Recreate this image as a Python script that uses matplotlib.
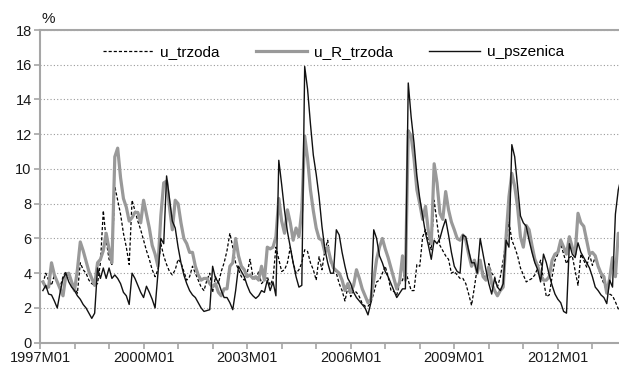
import numpy as np
import matplotlib.pyplot as plt

plt.rcParams['font.family'] = ['Liberation Sans', 'DejaVu Sans']

# miesieczne dane od 1997M01
u_trzoda = [
    3.4, 4.0, 3.6, 3.3, 3.9, 3.5, 3.2, 3.8, 4.1, 3.8, 3.5, 3.2,
    2.85, 4.6, 4.2, 4.0, 3.6, 3.4, 3.3, 3.4, 4.6, 7.6, 5.9, 4.8,
    4.5, 9.0, 8.2, 7.4, 6.3, 5.5, 4.5, 8.2, 7.6, 7.0, 6.5, 5.9,
    5.3, 4.8, 4.2, 3.8, 4.2, 5.7, 5.0, 4.5, 4.1, 3.9, 4.2, 4.8,
    4.6, 4.1, 3.6, 3.8, 4.4, 4.0, 3.6, 3.2, 3.0, 3.6, 4.0, 2.9,
    3.8, 3.4, 4.1, 4.6, 5.3, 6.3, 5.5, 4.6, 4.2, 3.8, 3.6, 4.0,
    4.8, 3.8, 3.6, 4.1, 3.4, 3.6, 3.8, 3.3, 3.7, 5.5, 4.8, 4.1,
    4.2, 4.6, 5.5, 4.6, 4.0, 4.2, 4.6, 5.35, 5.25, 4.6, 4.2, 3.6,
    4.95, 4.2, 5.3, 5.9, 4.6, 4.4, 4.0, 3.4, 3.0, 2.4, 3.2, 2.65,
    3.0, 2.9, 2.65, 2.25, 2.1, 2.1, 2.3, 2.85, 3.5, 3.6, 4.0, 4.4,
    3.8, 3.0, 2.95, 2.75, 3.4, 3.6, 4.1, 3.6, 3.0, 3.0, 4.5, 4.4,
    6.1, 6.5, 5.9, 5.35, 8.2, 6.9, 5.6, 5.3, 5.0, 4.8, 4.0, 4.1,
    3.9, 3.7, 3.7, 3.4, 2.8, 2.15, 3.2, 4.35, 4.45, 4.1, 3.6, 4.55,
    4.0, 3.8, 3.2, 3.8, 4.75, 5.9, 6.95, 5.9, 5.5, 5.0, 4.3, 3.9,
    3.5, 3.6, 3.7, 3.9, 4.3, 4.75, 3.6, 2.65, 2.75, 3.8, 4.75, 5.1,
    5.7, 5.1, 4.55, 4.9, 5.0, 4.15, 3.3, 5.1, 4.75, 4.35, 5.1, 4.45,
    4.95, 4.35, 3.8, 3.4, 3.0, 2.8, 2.7, 2.35, 1.95, 1.8,
]

u_R_trzoda = [
    3.5, 3.2, 3.2, 4.6, 3.9, 3.5, 3.1, 2.7, 3.9, 4.0, 3.5, 3.0,
    4.2, 5.8, 5.3, 4.7, 4.1, 3.7, 3.3, 4.6, 4.8, 5.3, 6.3, 5.4,
    4.6, 10.7, 11.2, 9.5, 8.3, 7.8, 7.0, 7.2, 7.5, 7.5, 6.9, 8.2,
    7.4, 6.6, 5.6, 5.1, 4.4, 7.3, 9.2, 9.3, 7.8, 6.5, 8.2, 8.0,
    6.9, 6.0, 5.7, 5.2, 5.2, 4.4, 3.9, 3.6, 3.7, 3.7, 3.4, 3.2,
    3.4, 2.9, 2.7, 3.1, 3.1, 4.4, 4.6, 6.0, 5.0, 4.4, 4.2, 3.8,
    3.9, 3.7, 3.8, 3.6, 4.4, 3.6, 5.5, 5.4, 5.5, 6.1, 8.3, 7.0,
    6.3, 7.65, 6.9, 5.9, 6.6, 6.1, 7.65, 11.9, 10.6, 8.8, 7.6, 6.6,
    6.0, 5.9, 5.2, 5.5, 4.8, 4.3, 4.15, 4.0, 3.6, 3.0, 3.4, 2.9,
    3.3, 4.2, 3.7, 3.1, 2.7, 2.3, 2.5, 3.6, 4.8, 5.5, 6.0, 5.4,
    4.9, 4.3, 3.7, 3.1, 3.5, 5.0, 3.6, 12.2, 11.9, 10.6, 8.8, 8.0,
    7.1, 7.85, 6.4, 5.7, 10.3, 9.2, 7.45, 7.1, 8.7, 7.65, 6.95, 6.5,
    6.0, 5.9, 6.2, 5.9, 5.1, 4.4, 4.75, 4.0, 4.75, 3.8, 3.6, 4.35,
    3.4, 3.0, 2.7, 3.0, 3.2, 6.1, 8.4, 9.75, 9.0, 7.8, 6.1, 5.5,
    6.75, 6.5, 5.6, 4.8, 4.4, 3.9, 3.6, 3.6, 3.8, 4.75, 5.1, 5.2,
    5.9, 5.5, 5.1, 6.1, 5.5, 5.1, 7.45, 6.9, 6.7, 5.9, 5.1, 5.2,
    5.0, 4.4, 4.0, 3.8, 2.85, 3.7, 4.9, 3.8, 6.3, 6.2,
]

u_pszenica = [
    3.0, 3.3, 2.8, 2.75, 2.4, 2.0, 2.9, 3.7, 4.0, 3.5, 3.2, 3.0,
    2.7, 2.5, 2.2, 2.0, 1.7, 1.4, 1.7, 4.3, 3.7, 4.3, 3.7, 4.3,
    3.7, 3.9, 3.7, 3.4, 2.9, 2.7, 2.2, 4.0, 3.7, 3.3, 2.9, 2.6,
    3.25, 2.9, 2.5, 2.0, 4.0, 6.0, 5.7, 9.6, 8.3, 7.0, 6.6, 5.5,
    4.6, 3.9, 3.4, 3.0, 2.75, 2.6, 2.3, 2.0, 1.8, 1.85, 1.9, 4.4,
    3.7, 3.5, 3.0, 2.6, 2.6, 2.3, 1.9, 3.0, 4.4, 4.1, 3.8, 3.3,
    2.9, 2.7, 2.55, 2.7, 3.0, 2.9, 3.6, 3.0, 3.5, 2.7, 10.5, 9.1,
    7.6, 6.4, 5.5, 4.6, 3.8, 3.2, 3.3, 15.9, 14.6, 12.6, 10.8, 9.7,
    8.4, 6.7, 5.4, 4.6, 4.0, 4.0, 6.5, 6.2, 5.2, 4.4, 3.7, 3.4,
    2.9, 2.6, 2.4, 2.2, 2.0, 1.6, 2.3, 6.5, 6.0, 5.0, 4.6, 4.1,
    3.8, 3.4, 3.0, 2.6, 2.85, 3.1, 3.1, 14.95, 13.0, 11.5, 9.6, 8.3,
    7.3, 6.3, 5.6, 4.8, 5.9, 5.7, 6.0, 6.6, 7.1, 6.2, 5.2, 4.4,
    4.1, 4.0, 6.2, 6.1, 5.3, 4.6, 4.6, 4.0, 6.0, 5.1, 4.2, 3.4,
    2.8, 3.7, 3.2, 3.0, 3.4, 5.9, 5.5, 11.4, 10.7, 9.0, 7.3, 6.9,
    6.7, 5.9, 5.2, 4.6, 4.2, 3.5, 5.1, 4.6, 3.9, 3.3, 2.8, 2.5,
    2.3, 1.8, 1.7, 5.7, 5.1, 4.9, 5.75, 5.2, 4.9, 4.6, 4.3, 3.8,
    3.2, 3.0, 2.75, 2.6, 2.25, 3.6, 3.2, 7.4, 8.8, 9.5,
]

etykiety = ['1997M01', '2000M01', '2003M01', '2006M01', '2009M01', '2012M01']

n = len(u_pszenica)
x = np.arange(1, n + 1)

fig = plt.figure(figsize=(6.19, 3.68), dpi=100)
ax = fig.add_axes([40 / 619, 25.3 / 368, 579 / 619, 312.7 / 368])

szary = '#a6a6a6'

ax.plot(x, u_trzoda, color='black', lw=0.9, linestyle=(0, (2.5, 1.6)), label='u_trzoda')
ax.plot(x, u_R_trzoda, color='#999999', lw=2.3, label='u_R_trzoda')
ax.plot(x, u_pszenica, color='#111111', lw=1.0, label='u_pszenica')

ax.set_xlim(0, 201.25)
ax.set_ylim(0, 18)
ax.set_yticks(np.arange(0, 19, 2))

ticks = np.arange(0, 201, 12)
ax.set_xticks(ticks)
ax.set_xticklabels([etykiety[i // 3] if i % 3 == 0 else '' for i in range(len(ticks))])

ax.grid(axis='y', color='#9a9a9a', linestyle=(0, (1, 2)), lw=0.8)
ax.set_axisbelow(True)

for s in ['left', 'bottom', 'top']:
    ax.spines[s].set_color(szary)
    ax.spines[s].set_linewidth(1.5)
ax.spines['right'].set_visible(False)

ax.tick_params(axis='both', direction='out', length=4, width=1.2, color=szary,
               labelsize=10.5, labelcolor='#1a1a1a')
ax.tick_params(axis='x', pad=2)
ax.tick_params(axis='y', pad=2)

ax.text(0.003, 1.012, '%', transform=ax.transAxes, fontsize=11, color='#1a1a1a',
        ha='left', va='bottom')

leg = ax.legend(loc='upper left', bbox_to_anchor=(0.085, 0.995), ncol=3, frameon=False,
                handlelength=3.3, columnspacing=2.4, handletextpad=0.45, fontsize=11)

plt.savefig('out.png', dpi=100)
